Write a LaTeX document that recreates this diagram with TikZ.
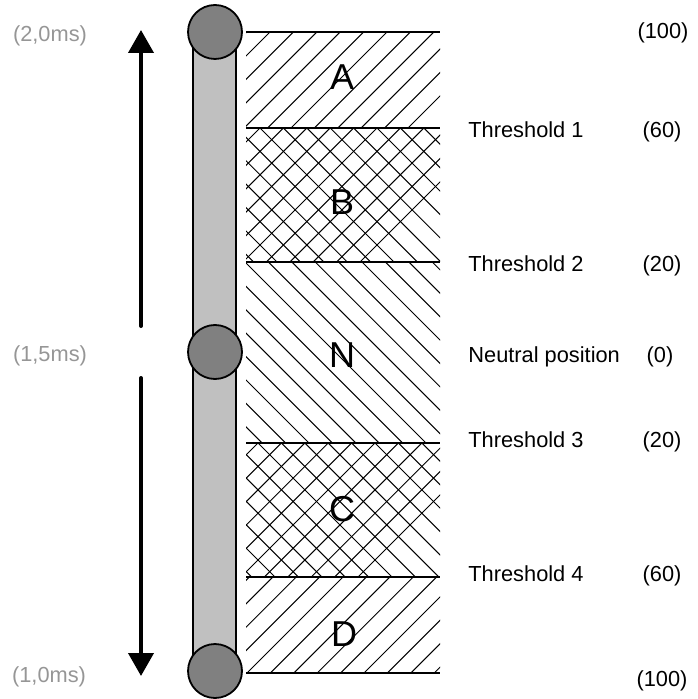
\documentclass[tikz,border=0pt]{standalone}
\usepackage{fontspec}
\setmainfont{Liberation Sans}
\usepackage{tikz}
\usetikzlibrary{arrows.meta}
\definecolor{bargray}{RGB}{192,192,192}
\definecolor{knobgray}{RGB}{128,128,128}
\definecolor{msgray}{RGB}{150,150,150}

\begin{document}
\begin{tikzpicture}[x=0.5pt, y=-0.5pt,
        hatch/.style={line width=0.5pt},
        border/.style={line width=1pt},
        knob/.style={circle, draw, line width=0.9pt, fill=knobgray, minimum size=27pt, inner sep=0pt},
        move/.style={line width=2pt, line cap=round, -{Triangle[width=12.5pt,length=11.5pt]}},
        lbl/.style={anchor=base west, inner sep=0pt, font=\fontsize{10.9}{12}\selectfont},
        val/.style={anchor=base, inner sep=0pt, font=\fontsize{10.9}{12}\selectfont},
        ms/.style={val, text=msgray},
        zone/.style={inner sep=0pt, font=\fontsize{18}{20}\selectfont}]
        \useasboundingbox (0,0) rectangle (697,699);

        % zone A
        \begin{scope}
            \clip (246,32) rectangle (440,128);
            \foreach \k in {-10,...,10} \draw[hatch] (270+23.4*\k-96,128) -- ++(96,-96);
        \end{scope}
        % zone B
        \begin{scope}
            \clip (246,128) rectangle (440,262);
            \foreach \k in {-10,...,10} {
                \draw[hatch] (260+23.4*\k-134,262) -- ++(134,-134);
                \draw[hatch] (260+23.4*\k,128) -- ++(134,134);
            }
        \end{scope}
        % zone N
        \begin{scope}
            \clip (246,262) rectangle (440,443);
            \foreach \k in {-10,...,10} \draw[hatch] (245+23.4*\k,262) -- ++(181,181);
        \end{scope}
        % zone C
        \begin{scope}
            \clip (246,443) rectangle (440,577);
            \foreach \k in {-10,...,10} {
                \draw[hatch] (258+23.4*\k-134,577) -- ++(134,-134);
                \draw[hatch] (258+23.4*\k,443) -- ++(134,134);
            }
        \end{scope}
        % zone D
        \begin{scope}
            \clip (246,577) rectangle (440,673);
            \foreach \k in {-10,...,10} \draw[hatch] (247+23.4*\k,673) -- ++(96,-96);
        \end{scope}

        \draw[border] (246,32) -- (440,32);
        \draw[border] (246,128) -- (440,128);
        \draw[border] (246,262) -- (440,262);
        \draw[border] (246,443) -- (440,443);
        \draw[border] (246,577) -- (440,577);
        \draw[border] (246,673) -- (440,673);

        \node[zone] (za) at (342,77) {A};
        \node[zone] (zb) at (342,202) {B};
        \node[zone] (zn) at (342,355) {N};
        \node[zone] (zc) at (342,509) {C};
        \node[zone] (zd) at (344,634) {D};

        % stick
        \draw[line width=0.75pt, fill=bargray] (193,32) rectangle (236,671);
        \node[knob] (kmax) at (215,32) {};
        \node[knob] (kmid) at (215,352) {};
        \node[knob] (kmin) at (215,671) {};

        \coordinate (upfrom) at (141,326);
        \coordinate (upto) at (141,30);
        \coordinate (dnfrom) at (141,378);
        \coordinate (dnto) at (141,676);
        \draw[move] (upfrom) -- (upto);
        \draw[move] (dnfrom) -- (dnto);

        \node[ms] (ms20) at (50,42) {(2,0ms)};
        \node[ms] (ms15) at (50,361) {(1,5ms)};
        \node[ms] (ms10) at (49,682) {(1,0ms)};

        \node[lbl] (th1) at (468,138) {Threshold 1};
        \node[lbl] (th2) at (468,272) {Threshold 2};
        \node[lbl] (neutral) at (468,362) {Neutral position};
        \node[lbl] (th3) at (468,447) {Threshold 3};
        \node[lbl] (th4) at (468,581) {Threshold 4};

        \node[val] (vmax) at (663,39) {(100)};
        \node[val] (v1) at (662,138) {(60)};
        \node[val] (v2) at (662,272) {(20)};
        \node[val] (v0) at (660,362) {(0)};
        \node[val] (v3) at (662,447) {(20)};
        \node[val] (v4) at (662,581) {(60)};
        \node[val] (vmin) at (662,686) {(100)};
    \end{tikzpicture}
\end{document}
